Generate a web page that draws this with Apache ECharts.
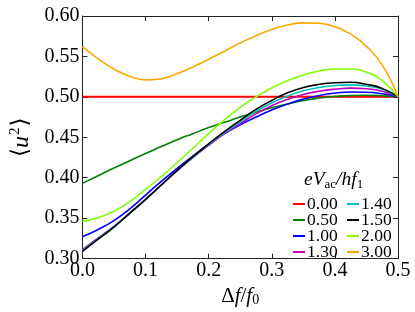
<!DOCTYPE html>
<html>
<head>
<meta charset="utf-8">
<script src="https://cdn.jsdelivr.net/npm/echarts@6/dist/echarts.min.js"></script>
<style>
html,body{margin:0;padding:0;background:#fff;}
#chart{width:415px;height:312px;}
</style>
</head>
<body>
<div id="chart"></div>
<script>
const xValues = [0, 0.025, 0.05, 0.075, 0.1, 0.125, 0.15, 0.175, 0.2, 0.225, 0.25, 0.275, 0.3, 0.325, 0.35, 0.375, 0.4, 0.425, 0.45, 0.475, 0.5];
const seriesNames = ['0.00', '0.50', '1.00', '1.30', '1.40', '1.50', '2.00', '3.00'];
const v000 = [0.5, 0.5, 0.5, 0.5, 0.5, 0.5, 0.5, 0.5, 0.5, 0.5, 0.5, 0.5, 0.5, 0.5, 0.5, 0.5, 0.5, 0.5, 0.5, 0.5, 0.5];
const v050 = [0.393, 0.4025, 0.412, 0.421, 0.430, 0.4385, 0.447, 0.4545, 0.462, 0.4685, 0.475, 0.481, 0.4865, 0.4912, 0.4955, 0.4985, 0.5005, 0.5016, 0.502, 0.5014, 0.500];
const v100 = [0.327, 0.336, 0.347, 0.3615, 0.3785, 0.3955, 0.4115, 0.4268, 0.4415, 0.4545, 0.4655, 0.475, 0.4838, 0.4912, 0.4972, 0.5017, 0.5047, 0.5060, 0.5058, 0.5038, 0.500];
const v130 = [0.311, 0.3255, 0.340, 0.3565, 0.3735, 0.391, 0.4085, 0.425, 0.440, 0.4545, 0.467, 0.479, 0.489, 0.497, 0.503, 0.507, 0.5095, 0.5108, 0.5100, 0.507, 0.500];
const v140 = [0.310, 0.3248, 0.3395, 0.356, 0.373, 0.391, 0.409, 0.4255, 0.441, 0.4558, 0.469, 0.482, 0.4925, 0.501, 0.5075, 0.5115, 0.514, 0.5148, 0.5135, 0.5095, 0.500];
const v150 = [0.309, 0.324, 0.339, 0.356, 0.373, 0.391, 0.409, 0.426, 0.442, 0.457, 0.471, 0.4845, 0.4955, 0.505, 0.5115, 0.5155, 0.5175, 0.518, 0.5155, 0.5105, 0.500];
const v200 = [0.346, 0.3505, 0.3585, 0.3705, 0.3855, 0.4015, 0.4185, 0.4365, 0.4545, 0.4715, 0.487, 0.500, 0.511, 0.520, 0.527, 0.532, 0.5345, 0.5345, 0.5305, 0.520, 0.500];
const v300 = [0.562, 0.547, 0.5345, 0.5255, 0.521, 0.5225, 0.5285, 0.537, 0.5465, 0.5565, 0.5665, 0.5757, 0.5833, 0.5888, 0.5915, 0.591, 0.587, 0.5775, 0.5625, 0.5395, 0.500];
const seriesValues = [v000, v050, v100, v130, v140, v150, v200, v300];
const colors = ['#ff0000', '#008000', '#0000ff', '#bf00bf', '#00bfbf', '#000000', '#7fff00', '#ffa500'];
const xTicks = [0, 0.1, 0.2, 0.3, 0.4, 0.5];
const yTicks = [0.30, 0.35, 0.40, 0.45, 0.50, 0.55, 0.60];

const FONT = '"Liberation Serif", "DejaVu Serif", serif';
const chart = echarts.init(document.getElementById('chart'), null, {renderer: 'canvas'});

const series = seriesNames.map((name, i) => ({
  name: name,
  type: 'line',
  smooth: 0.5,
  symbol: 'none',
  data: xValues.map((x, j) => [x, seriesValues[i][j]]),
  lineStyle: {color: colors[i], width: i === 0 ? 2 : 1.6},
  itemStyle: {color: colors[i]},
  z: 2 + i
}));

const axisCommon = {
  axisLine: {show: true, onZero: false, lineStyle: {color: '#222', width: 1}},
  axisTick: {show: true, inside: true, length: 5, lineStyle: {color: '#222', width: 1}},
  splitLine: {show: false}
};

const legendCommon = {
  orient: 'vertical',
  icon: 'rect',
  itemWidth: 12,
  itemHeight: 2,
  itemGap: -2,
  padding: 0,
  textStyle: {fontFamily: FONT, fontSize: 17.5, lineHeight: 17, color: '#000', padding: [0, 0, 0, -3]}
};

chart.setOption({
  animation: false,
  backgroundColor: '#fff',
  grid: {left: 77, right: 17, top: 16, bottom: 47},
  xAxis: [
    Object.assign({}, axisCommon, {
      type: 'value', min: 0, max: 0.5, interval: 0.1, position: 'bottom',
      axisLabel: {fontFamily: FONT, fontSize: 20, color: '#000', margin: 2,
        formatter: v => v.toFixed(1)},
      name: '{r|Δ}{i|f}{r|/}{i|f}{s|0}',
      nameLocation: 'middle', nameGap: 19,
      nameTextStyle: {rich: {
        r: {fontFamily: FONT, fontSize: 21, color: '#000'},
        i: {fontFamily: FONT, fontSize: 21, fontStyle: 'italic', color: '#000'},
        s: {fontFamily: FONT, fontSize: 14, color: '#000', verticalAlign: 'bottom', padding: [8, 0, 0, 0]}
      }}
    }),
    Object.assign({}, axisCommon, {
      type: 'value', min: 0, max: 0.5, interval: 0.1, position: 'top',
      axisLabel: {show: false}
    })
  ],
  yAxis: [
    Object.assign({}, axisCommon, {
      type: 'value', min: 0.30, max: 0.60, interval: 0.05, position: 'left',
      axisLabel: {fontFamily: FONT, fontSize: 20, color: '#000', margin: 3,
        formatter: v => v.toFixed(2)},
      name: '{r|⟨}{i|u}{s|2}{r|⟩}',
      nameLocation: 'middle', nameGap: 46, nameRotate: 90,
      nameTextStyle: {rich: {
        r: {fontFamily: '"DejaVu Serif", serif', fontSize: 23, color: '#000'},
        i: {fontFamily: FONT, fontSize: 24, fontStyle: 'italic', color: '#000'},
        s: {fontFamily: FONT, fontSize: 15, color: '#000', verticalAlign: 'top', padding: [0, 1, 12, 1]}
      }}
    }),
    Object.assign({}, axisCommon, {
      type: 'value', min: 0.30, max: 0.60, interval: 0.05, position: 'right',
      axisLabel: {show: false}
    })
  ],
  legend: [
    Object.assign({}, legendCommon, {left: 293, top: 195, data: seriesNames.slice(0, 4)}),
    Object.assign({}, legendCommon, {left: 347, top: 195, data: seriesNames.slice(4, 8)})
  ],
  graphic: [{
    type: 'text', left: 304, top: 170,
    style: {
      text: '{i|eV}{s|ac}{i|/hf}{s|1}',
      rich: {
        i: {fontFamily: FONT, fontSize: 19.5, fontStyle: 'italic', fill: '#000'},
        s: {fontFamily: FONT, fontSize: 13, fill: '#000', padding: [9, 0, 0, 0]}
      }
    }
  }],
  series: series
});
</script>
</body>
</html>
